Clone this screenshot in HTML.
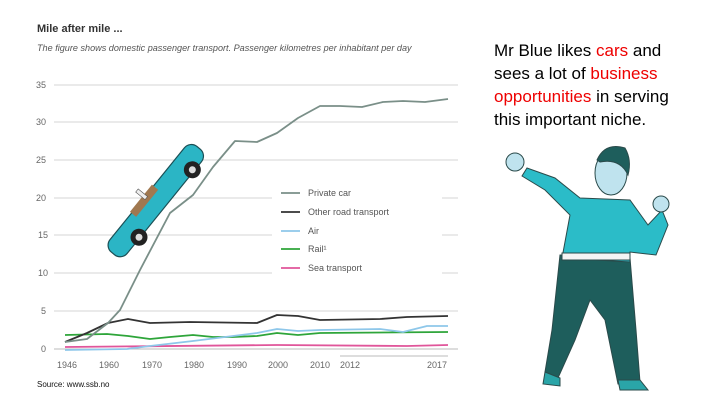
<!DOCTYPE html>
<html><head><meta charset="utf-8"><style>
body{margin:0;width:720px;height:405px;background:#fff;overflow:hidden;position:relative;font-family:"Liberation Sans",sans-serif}
.t{position:absolute;color:#444;white-space:nowrap}
</style></head><body>
<div class="t" style="left:37px;top:23px;font-size:11px;font-weight:bold;color:#333">Mile after mile ...</div>
<div class="t" style="left:37px;top:43px;font-size:9.1px;font-style:italic;color:#555">The figure shows domestic passenger transport. Passenger kilometres per inhabitant per day</div>
<div class="t" style="left:37px;top:380px;font-size:8px;color:#111">Source: www.ssb.no</div>
<div style="position:absolute;left:494px;top:39px;font-size:17px;line-height:23px;color:#000">Mr Blue likes <span style="color:#e00">cars</span> and<br>sees a lot of <span style="color:#e00">business</span><br><span style="color:#e00">opportunities</span> in serving<br>this important niche.</div>
<svg width="720" height="405" style="position:absolute;left:0;top:0" font-family="Liberation Sans,sans-serif">
<g stroke="#d4d4d4" stroke-width="1">
<line x1="54" x2="458" y1="85" y2="85"/><line x1="54" x2="458" y1="122" y2="122"/><line x1="54" x2="458" y1="160" y2="160"/><line x1="54" x2="458" y1="198" y2="198"/><line x1="54" x2="458" y1="235" y2="235"/><line x1="54" x2="458" y1="273" y2="273"/><line x1="54" x2="458" y1="311" y2="311"/><line x1="54" x2="458" y1="349" y2="349" stroke="#bbb"/>
<line x1="340" x2="448" y1="356" y2="356" stroke="#bbb"/>
</g>
<g font-size="9" fill="#666">
<text x="36" y="88">35</text><text x="36" y="125">30</text><text x="36" y="163">25</text><text x="36" y="201">20</text><text x="38" y="238">15</text><text x="38" y="276">10</text><text x="41" y="314">5</text><text x="41" y="352">0</text>
<g text-anchor="middle"><text x="67" y="368">1946</text><text x="109" y="368">1960</text><text x="152" y="368">1970</text><text x="194" y="368">1980</text><text x="237" y="368">1990</text><text x="278" y="368">2000</text><text x="320" y="368">2010</text><text x="350" y="368">2012</text><text x="437" y="368">2017</text></g>
</g>
<rect x="272" y="180" width="170" height="100" fill="#fff"/>
<g fill="none" stroke-width="1.8" stroke-linejoin="round">
<polyline stroke="#e0559a" points="65,347 277,345 407,346 448,345"/>
<polyline stroke="#2ea53a" points="65,335 107,334 128,336 150,339 170,337 193,335 213,337 233,337 257,336 277,333 298,335 320,333 448,332"/>
<polyline stroke="#8ec7ea" points="65,350 127,349 150,346 193,341 233,336 257,333 277,329 298,331 320,330 380,329 403,332 427,326 448,326"/>
<polyline stroke="#333" points="65,342 87,333 108,323 128,319 150,323 190,322 257,323 277,315 298,316 320,320 380,319 407,317 448,316"/>
<polyline stroke="#7a8f88" points="65,342 87,339 108,323 120,310 125,300 140,270 170,213 193,195 213,167 235,141 257,142 277,133 298,118 320,106 340,106 362,107 383,102 403,101 425,102 448,99"/>
</g>
<g stroke-width="1.8"><line x1="281" x2="300" y1="193" y2="193" stroke="#7a8f88"/><line x1="281" x2="300" y1="212" y2="212" stroke="#333"/><line x1="281" x2="300" y1="231" y2="231" stroke="#8ec7ea"/><line x1="281" x2="300" y1="249" y2="249" stroke="#2ea53a"/><line x1="281" x2="300" y1="268" y2="268" stroke="#e0559a"/></g>
<g font-size="9" fill="#555"><text x="308" y="196">Private car</text><text x="308" y="215">Other road transport</text><text x="308" y="234">Air</text><text x="308" y="252">Rail¹</text><text x="308" y="271">Sea transport</text></g>
<!-- car -->
<g transform="translate(155,200) rotate(-51)">
<rect x="-68" y="-10" width="136" height="22" rx="9" fill="#2bb5c5" stroke="#1b4f55" stroke-width="1.2"/>
<rect x="-25" y="-12" width="35" height="8" fill="#a07850"/>
<rect x="-6" y="-20" width="4" height="12" fill="#eee" stroke="#555" stroke-width=".6"/>
<circle cx="-39" cy="11" r="8.5" fill="#222"/><circle cx="-39" cy="11" r="3.5" fill="#ddd"/>
<circle cx="47" cy="10" r="8.5" fill="#222"/><circle cx="47" cy="10" r="3.5" fill="#ddd"/>
</g>
<!-- man -->
<g stroke="#2a4a4a" stroke-width="1">
<polygon points="560,255 630,258 636,330 640,382 618,384 605,320 590,300 575,340 558,378 545,372 552,330" fill="#1e5e5c"/>
<polygon points="545,372 560,378 560,386 543,384" fill="#2aa5a8"/>
<polygon points="618,380 640,380 648,390 620,390" fill="#2aa5a8"/>
<polygon points="580,198 630,200 648,225 662,210 668,225 656,255 630,252 630,262 562,258 570,215 545,190 522,176 527,168 555,178" fill="#2bbcc8"/>
<rect x="562" y="253" width="68" height="7" fill="#f4f4f4"/>
<ellipse cx="611" cy="173" rx="16" ry="22" fill="#bfe3ee"/>
<path d="M597,160 Q605,142 625,148 Q632,160 628,175 Q620,158 600,162Z" fill="#1e5e5c"/>
<circle cx="515" cy="162" r="9" fill="#bfe3ee"/>
<circle cx="661" cy="204" r="8" fill="#bfe3ee"/>
</g>
</svg>
</body></html>
